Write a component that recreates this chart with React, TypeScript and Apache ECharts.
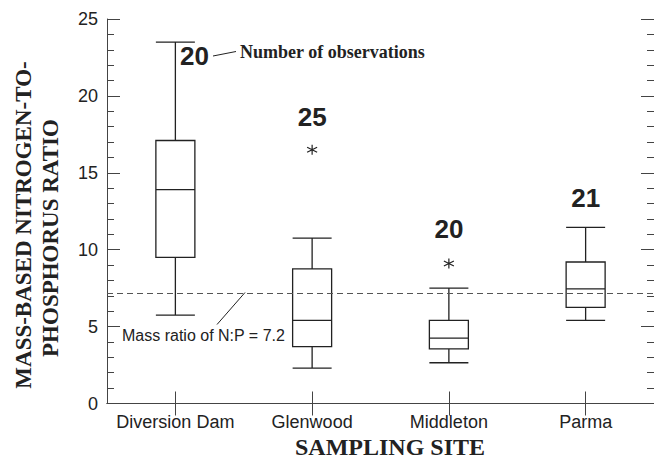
import React, { useEffect, useRef } from "react";
import * as echarts from "echarts";

const sites = ["Diversion Dam", "Glenwood", "Middleton", "Parma"];
// [lower whisker, Q1, median, Q3, upper whisker]
const boxStats = [
  [5.75, 9.5, 13.9, 17.1, 23.5],
  [2.3, 3.7, 5.4, 8.75, 10.75],
  [2.65, 3.55, 4.25, 5.4, 7.5],
  [5.4, 6.25, 7.45, 9.2, 11.45],
];
const outlierSites = ["Glenwood", "Middleton"];
const outlierValues = [16.5, 9.1];
const observationCounts = [20, 25, 20, 21];
const ratioLine = 7.2;
const yTicks = [0, 5, 10, 15, 20, 25];

const SERIF = "'Liberation Serif', 'Times New Roman', serif";
const SANS = "'Liberation Sans', Arial, sans-serif";
const INK = "#222";

export default function App() {
  const ref = useRef<HTMLDivElement>(null);
  useEffect(() => {
    if (!ref.current) return;
    const chart = echarts.init(ref.current, null, { renderer: "svg" });

    const topValues = sites.map((s, i) => {
      let t = boxStats[i][4];
      outlierSites.forEach((o, j) => {
        if (o === s) t = Math.max(t, outlierValues[j]);
      });
      return t;
    });
    const labelOffsets = [
      [19, 14],
      [0, -33],
      [0, -35],
      [0, -29],
    ];

    const xAxisCommon = {
      type: "category" as const,
      data: sites,
      boundaryGap: true,
      axisLine: { show: true, lineStyle: { color: "#444", width: 1 } },
      axisTick: {
        show: true,
        inside: true,
        alignWithLabel: true,
        length: 12,
        lineStyle: { color: "#444", width: 1 },
      },
      splitLine: { show: false },
    };
    const yAxisCommon = {
      type: "value" as const,
      min: 0,
      max: 25,
      interval: 5,
      axisLine: { show: true, lineStyle: { color: "#444", width: 1 } },
      axisTick: { show: true, inside: true, length: 13, lineStyle: { color: "#444", width: 1 } },
      minorTick: { show: true, splitNumber: 5, length: 7, lineStyle: { color: "#444", width: 1 } },
      splitLine: { show: false },
      minorSplitLine: { show: false },
    };

    chart.setOption({
      animation: false,
      backgroundColor: "#fff",
      grid: { left: 107, top: 19, right: -7, bottom: 59.5 },
      xAxis: [
        {
          ...xAxisCommon,
          position: "bottom",
          axisLabel: {
            show: true,
            interval: 0,
            hideOverlap: false,
            fontFamily: SANS,
            fontSize: 18,
            color: INK,
            margin: 9,
          },
        },
        { ...xAxisCommon, position: "top", axisLabel: { show: false } },
      ],
      yAxis: [
        {
          ...yAxisCommon,
          position: "left",
          axisLabel: {
            show: true,
            fontFamily: SANS,
            fontSize: 18,
            color: INK,
            margin: 9,
            formatter: (v: number) => (yTicks.includes(v) ? String(v) : ""),
          },
        },
        { ...yAxisCommon, position: "right", axisLabel: { show: false } },
      ],
      series: [
        {
          type: "boxplot",
          data: boxStats,
          boxWidth: [39, 39],
          itemStyle: { color: "#fff", borderColor: INK, borderWidth: 1.3 },
          markLine: {
            silent: true,
            symbol: "none",
            label: { show: false },
            lineStyle: { color: "#555", type: [6, 4], width: 1 },
            data: [{ yAxis: ratioLine }],
          },
          z: 3,
        },
        {
          type: "scatter",
          data: outlierSites.map((s, j) => [s, outlierValues[j]]),
          symbol: "path://M5,0L5,10M0.7,2.5L9.3,7.5M0.7,7.5L9.3,2.5",
          symbolSize: 10,
          itemStyle: { color: "none", borderColor: INK, borderWidth: 1.2, opacity: 1 },
          z: 4,
        },
        {
          type: "scatter",
          data: sites.map((s, i) => ({
            value: [s, topValues[i]],
            label: {
              show: true,
              position: "inside",
              offset: labelOffsets[i],
              formatter: String(observationCounts[i]),
              fontFamily: SANS,
              fontWeight: "bold",
              fontSize: 26,
              color: INK,
            },
          })),
          symbolSize: 1,
          itemStyle: { color: "rgba(0,0,0,0)", opacity: 1 },
          z: 5,
        },
      ],
      graphic: [
        {
          type: "line",
          shape: { x1: 213, y1: 56, x2: 236, y2: 51.5 },
          style: { stroke: INK, lineWidth: 1 },
        },
        {
          type: "text",
          x: 240,
          y: 52,
          style: {
            text: "Number of observations",
            font: `bold 18px ${SERIF}`,
            fill: INK,
            verticalAlign: "middle",
            align: "left",
          },
        },
        {
          type: "line",
          shape: { x1: 217, y1: 324.5, x2: 245, y2: 292.5 },
          style: { stroke: INK, lineWidth: 1 },
        },
        {
          type: "text",
          x: 122,
          y: 335,
          style: {
            text: "Mass ratio of N:P = 7.2",
            font: `16px ${SANS}`,
            fill: INK,
            verticalAlign: "middle",
            align: "left",
          },
        },
        {
          type: "text",
          x: 390,
          y: 447,
          style: {
            text: "SAMPLING SITE",
            font: `bold 24px ${SERIF}`,
            fill: INK,
            verticalAlign: "middle",
            align: "center",
          },
        },
        {
          type: "text",
          x: 23,
          y: 225,
          rotation: Math.PI / 2,
          style: {
            text: "MASS-BASED NITROGEN-TO-",
            font: `bold 23px ${SERIF}`,
            fill: INK,
            verticalAlign: "middle",
            align: "center",
          },
        },
        {
          type: "text",
          x: 50,
          y: 238,
          rotation: Math.PI / 2,
          style: {
            text: "PHOSPHORUS RATIO",
            font: `bold 23px ${SERIF}`,
            fill: INK,
            verticalAlign: "middle",
            align: "center",
          },
        },
      ],
    });
    return () => chart.dispose();
  }, []);
  return (
    <div
      ref={ref}
      style={{ position: "fixed", left: 0, top: 0, width: 654, height: 463, background: "#fff" }}
    />
  );
}
